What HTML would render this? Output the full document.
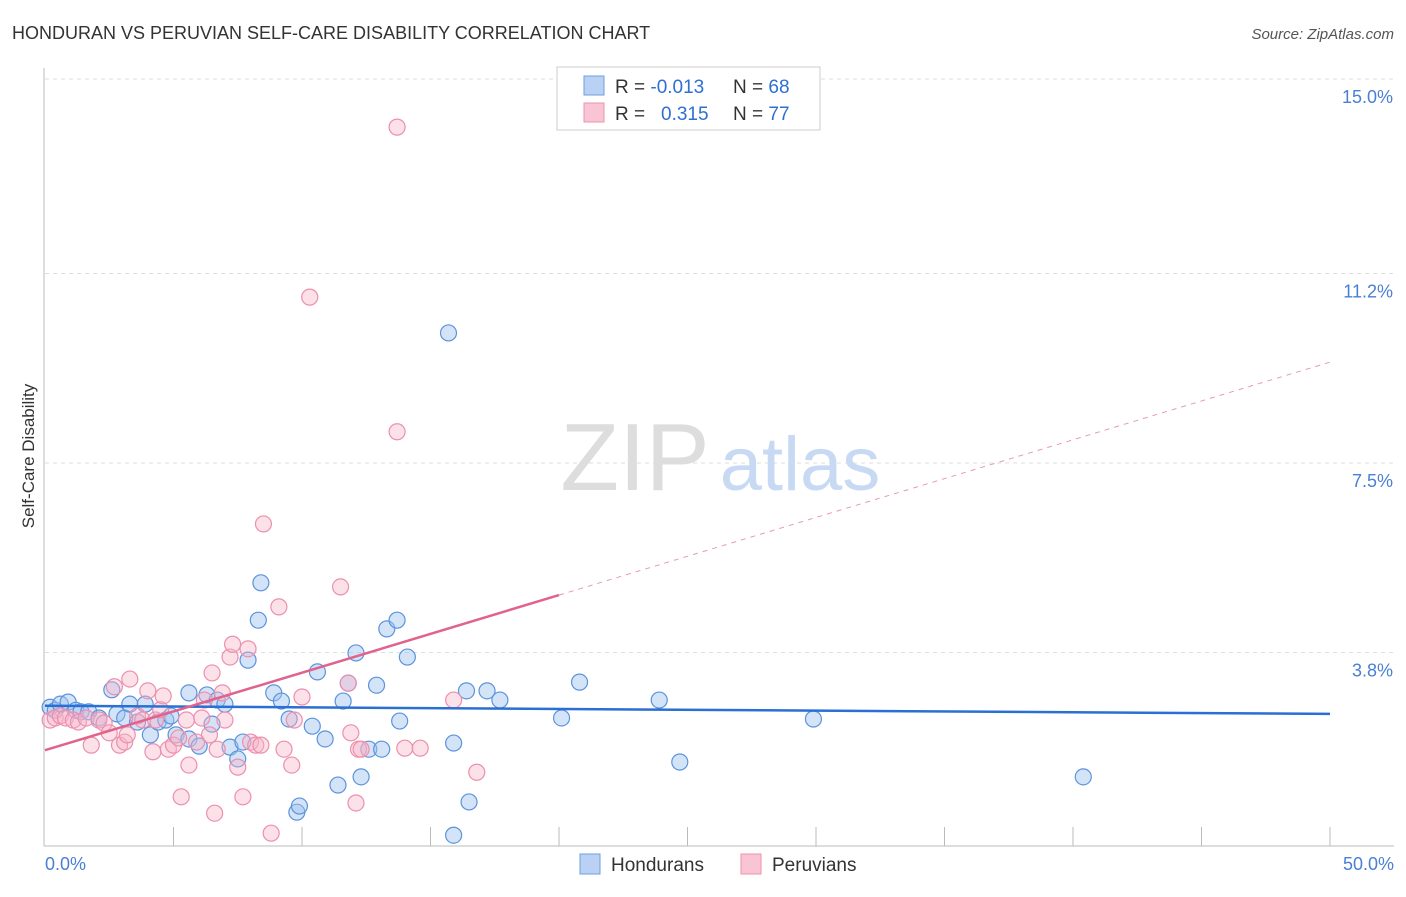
<!DOCTYPE html>
<html><head><meta charset="utf-8"><style>
body{margin:0;background:#fff;font-family:"Liberation Sans",sans-serif}
svg text{font-family:"Liberation Sans",sans-serif}
</style></head><body>
<svg width="1406" height="892">
<text x="12" y="39" font-size="18" fill="#333">HONDURAN VS PERUVIAN SELF-CARE DISABILITY CORRELATION CHART</text>
<text x="1394" y="39" font-size="15" fill="#555" font-style="italic" text-anchor="end">Source: ZipAtlas.com</text>
<g id="grid"></g>
<g>
<text x="635" y="490" font-size="96" fill="#ddd" font-family="Liberation Serif" text-anchor="middle">ZIP</text>
<text x="800" y="490" font-size="76" fill="#c8daf3" text-anchor="middle">atlas</text>
</g>
<line x1="44" y1="68" x2="44" y2="846" stroke="#bbb"/>
<line x1="44" y1="846" x2="1394" y2="846" stroke="#bbb"/>
<g id="ticks"></g>
<g id="pts"></g>
<g id="lines"></g>
<text x="34" y="456" font-size="17" fill="#333" text-anchor="middle" transform="rotate(-90 34 456)">Self-Care Disability</text>
<text x="45" y="870" font-size="18" fill="#4a7fd4">0.0%</text>
<text x="1394" y="870" font-size="18" fill="#4a7fd4" text-anchor="end">50.0%</text>
<g>
<rect x="557" y="67" width="263" height="63" fill="#fff" stroke="#ccc"/>
<rect x="584" y="76" width="20" height="19" fill="#b9d2f3" stroke="#6d9ee0"/>
<rect x="584" y="103" width="20" height="19" fill="#f9c5d5" stroke="#ec93b0"/>
<text x="615" y="93" font-size="19" fill="#333">R = <tspan fill="#2f6fd4">-0.013</tspan><tspan x="733">N = </tspan><tspan fill="#2f6fd4">68</tspan></text>
<text x="615" y="120" font-size="19" fill="#333">R = <tspan x="661" fill="#2f6fd4">0.315</tspan><tspan x="733">N = </tspan><tspan fill="#2f6fd4">77</tspan></text>
</g>
<g>
<rect x="580" y="854" width="20" height="20" fill="#b9d2f3" stroke="#6d9ee0"/>
<text x="611" y="871" font-size="19" fill="#333">Hondurans</text>
<rect x="741" y="854" width="20" height="20" fill="#f9c5d5" stroke="#ec93b0"/>
<text x="772" y="871" font-size="19" fill="#333">Peruvians</text>
</g>
</svg>
<script>
const yTicks=[3.8,7.5,11.2,15.0];
const xTicks=[0,5,10,15,20,25,30,35,40,45,50];
const hondX=[0.2,0.4,0.6,0.9,1.2,1.4,1.7,2.1,2.6,2.8,3.1,3.3,3.6,3.9,4.1,4.4,4.7,4.9,5.1,5.6,5.6,6.0,6.3,6.5,6.7,7.0,7.2,7.5,7.7,7.9,8.3,8.4,8.9,9.2,9.5,9.8,9.9,10.4,10.6,10.9,11.4,11.6,11.8,12.1,12.3,12.6,12.9,13.1,13.3,13.7,13.8,14.1,15.7,15.9,15.9,16.4,16.5,17.2,17.7,20.1,20.8,23.9,24.7,29.9,40.4];
const hondY=[2.73,2.67,2.79,2.83,2.67,2.64,2.64,2.52,3.07,2.6,2.52,2.79,2.44,2.79,2.19,2.44,2.48,2.56,2.19,3.01,2.11,1.97,2.97,2.4,2.87,2.79,1.95,1.72,2.05,3.65,4.43,5.16,3.01,2.85,2.5,0.68,0.8,2.36,3.42,2.11,1.21,2.85,3.2,3.79,1.37,1.91,3.16,1.91,4.26,4.43,2.46,3.71,10.04,2.03,0.23,3.05,0.88,3.05,2.87,2.52,3.22,2.87,1.66,2.5,1.37];
const peruX=[0.2,0.4,0.6,0.8,1.1,1.3,1.6,1.8,2.1,2.3,2.5,2.7,2.9,3.1,3.2,3.3,3.6,3.8,4.0,4.2,4.3,4.5,4.6,4.8,5.0,5.2,5.3,5.5,5.6,5.9,6.1,6.2,6.4,6.5,6.6,6.7,6.9,7.0,7.2,7.3,7.5,7.7,7.9,8.0,8.2,8.4,8.5,8.8,9.3,9.6,9.7,9.1,10.0,10.3,11.5,11.8,11.9,12.1,12.2,12.3,13.7,13.7,14.0,14.6,15.9,16.8];
const peruY=[2.48,2.52,2.56,2.52,2.48,2.44,2.52,1.99,2.48,2.42,2.23,3.13,1.99,2.05,2.19,3.28,2.56,2.48,3.05,1.86,2.48,2.68,2.95,1.91,1.99,2.13,0.98,2.48,1.6,2.05,2.52,2.87,2.19,3.4,0.66,1.91,3.01,2.48,3.71,3.96,1.56,0.98,3.87,2.05,1.99,1.99,6.31,0.27,1.91,1.6,2.48,4.69,2.93,10.74,5.08,3.2,2.23,0.86,1.91,1.91,8.11,14.06,1.93,1.93,2.87,1.46,6.04];
const X=v=>45+v*25.7, Y=v=>847-v*51.2;
const NS="http://www.w3.org/2000/svg";
function mk(t,a,p){const e=document.createElementNS(NS,t);for(const k in a)e.setAttribute(k,a[k]);p.appendChild(e);return e;}
const grid=document.getElementById('grid');
yTicks.forEach(t=>{
 const l=mk('line',{x1:45,x2:1394,y1:Y(t),y2:Y(t),stroke:'#ddd','stroke-dasharray':'4,4'},grid);
 
 
 const tx=mk('text',{x:1393,y:Y(t)+24,'font-size':18,fill:'#4a7fd4','text-anchor':'end'},grid);
 tx.textContent=t.toFixed(1)+'%';
 
 
});
const ticks=document.getElementById('ticks');
xTicks.forEach(t=>{
 if(t===0)return;
 const l=mk('line',{x1:X(t),x2:X(t),y1:827,y2:846,stroke:'#bbb'},ticks);
 
 
});
const pts=document.getElementById('pts');
hondX.forEach((x,i)=>{
 const c=mk('circle',{cx:X(x),cy:Y(hondY[i]),r:8,fill:'rgba(160,196,240,0.45)',stroke:'#5b93dc','stroke-width':1.2},pts);
 
 
});
peruX.forEach((x,i)=>{
 const c=mk('circle',{cx:X(x),cy:Y(peruY[i]),r:8,fill:'rgba(248,180,200,0.4)',stroke:'#ec8fae','stroke-width':1.2},pts);
 
 
});
const lines=document.getElementById('lines');
let l=mk('line',{x1:X(0),y1:Y(2.76),x2:X(50),y2:Y(2.6),stroke:'#2a6fd4','stroke-width':2.5},lines);


l=mk('line',{x1:X(0),y1:Y(1.89),x2:X(20),y2:Y(4.92),stroke:'#e0638e','stroke-width':2.5},lines);


l=mk('line',{x1:X(20),y1:Y(4.92),x2:X(50),y2:Y(9.47),stroke:'#e89ab5','stroke-width':1,'stroke-dasharray':'5,5'},lines);


</script>
</body></html>
